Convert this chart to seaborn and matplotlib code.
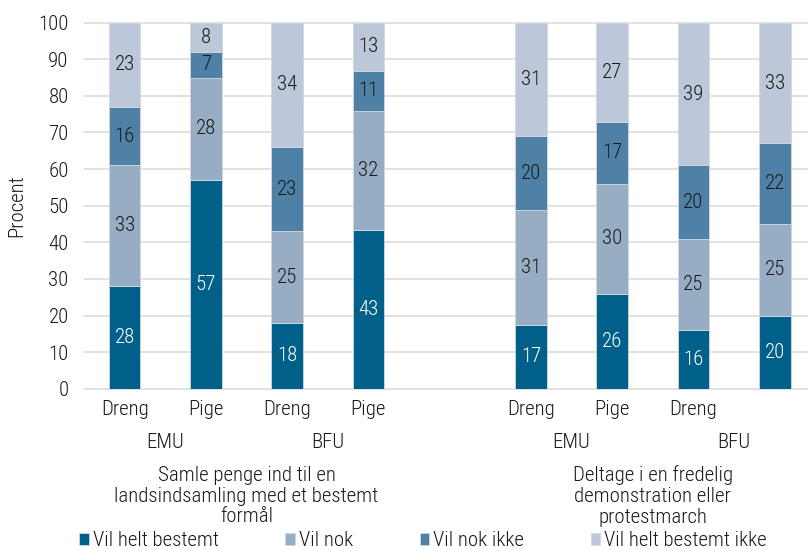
import numpy as np
import pandas as pd
import matplotlib
matplotlib.use("Agg")
import matplotlib.pyplot as plt
from matplotlib import font_manager
import seaborn as sns

# ---------------- data ----------------
tick_labels = ["Dreng", "Pige", "Dreng", "Pige", "Dreng", "Pige", "Dreng", ""]
school_labels = ["EMU", "BFU", "EMU", "BFU"]
activity_labels = ["Samle penge ind til en\nlandsindsamling med et bestemt\nformål",
                   "Deltage i en fredelig\ndemonstration eller\nprotestmarch"]
series_names = ["Vil helt bestemt", "Vil nok", "Vil nok ikke", "Vil helt bestemt ikke"]

vil_helt_bestemt = [28, 57, 18, 43.4, 17.4, 26, 16, 20]
vil_nok = [33, 28, 25, 32.4, 31.4, 30, 25, 25]
vil_nok_ikke = [16, 7, 23, 11.1, 20.2, 17, 20, 22]
vil_helt_bestemt_ikke = [23, 8, 34, 13.1, 31.0, 27, 39, 33]

series_values = [vil_helt_bestemt, vil_nok, vil_nok_ikke, vil_helt_bestemt_ikke]
colors = ["#00608A", "#97ADC4", "#4F80A6", "#BCC8D9"]
label_colors = ["white", "#1a1a1a", "#1a1a1a", "#1a1a1a"]

# bar slots (one empty slot between the two activities)
positions = [0, 1, 2, 3, 5, 6, 7, 8]

# ---------------- style ----------------
sns.set_theme(style="white")
avail = {f.name for f in font_manager.fontManager.ttflist}
fam = None
for cand in ["Roboto Condensed", "Liberation Sans Narrow", "Open Sans Condensed", "Roboto", "Liberation Sans"]:
    if cand in avail:
        fam = cand
        break
plt.rcParams["font.family"] = [fam, "DejaVu Sans"] if fam else ["DejaVu Sans"]
plt.rcParams["font.weight"] = "light"
plt.rcParams["axes.labelweight"] = "light"
FS = 15

fig = plt.figure(figsize=(8.08, 5.51), dpi=100)
W, H = 808, 551
left, right, bottom, top = 84, 808, 388.7, 22.7
ax = fig.add_axes([left / W, 1 - bottom / H, (right - left) / W, (bottom - top) / H])

cum = np.zeros(len(positions))
handles = []
for name, vals, col, lc in zip(series_names, series_values, colors, label_colors):
    vals = np.asarray(vals, dtype=float)
    df = pd.DataFrame({"x": positions, "y": vals})
    sns.barplot(data=df, x="x", y="y", native_scale=True, width=0.39,
                bottom=cum, color=col, saturation=1, errorbar=None,
                linewidth=0.6, edgecolor="#d0d8e2", ax=ax, label=name)
    cont = ax.containers[-1]
    handles.append(cont)
    ax.bar_label(cont, labels=[f"{v:.0f}" for v in vals], label_type="center",
                 color=lc, fontsize=FS)
    cum = cum + vals

ax.set_xlim(-0.5, 8.41)
ax.set_ylim(0, 100)
ax.set_yticks(np.arange(0, 101, 10))
ax.yaxis.grid(True, color="#d9d9d9", linewidth=1.1)
for gl in ax.get_ygridlines():
    gl.set_clip_on(False)
ax.set_axisbelow(True)
for s in ax.spines.values():
    s.set_visible(False)
ax.tick_params(axis="both", length=0, labelsize=FS, colors="#1a1a1a")
ax.tick_params(axis="y", pad=11)
ax.tick_params(axis="x", pad=8)
ax.set_xticks(positions)
ax.set_xticklabels(tick_labels)
ax.set_xlabel("")
ax.set_ylabel("Procent", fontsize=FS, color="#1a1a1a", labelpad=9, fontweight="light")
if ax.get_legend() is not None:
    ax.get_legend().remove()

trans = ax.get_xaxis_transform()
axh = bottom - top
for xpos, lab in zip([0.5, 2.5, 5.5, 7.5], school_labels):
    ax.text(xpos, -(442 - bottom) / axh, lab, transform=trans, ha="center", va="center",
            fontsize=FS, color="#1a1a1a")
for xpos, lab in zip([1.5, 6.5], activity_labels):
    ax.text(xpos, -(496 - bottom) / axh, lab, transform=trans, ha="center", va="center",
            fontsize=FS, color="#1a1a1a", linespacing=1.12)

leg = fig.legend(handles=handles, labels=series_names, loc="center",
                 bbox_to_anchor=(423 / W, 1 - 541 / H), ncol=4, frameon=False,
                 fontsize=FS, handlelength=0.45, handleheight=0.45, handletextpad=0.2,
                 columnspacing=3.2, borderaxespad=0, borderpad=0)
for t in leg.get_texts():
    t.set_color("#1a1a1a")

fig.savefig("out.png", dpi=100)
